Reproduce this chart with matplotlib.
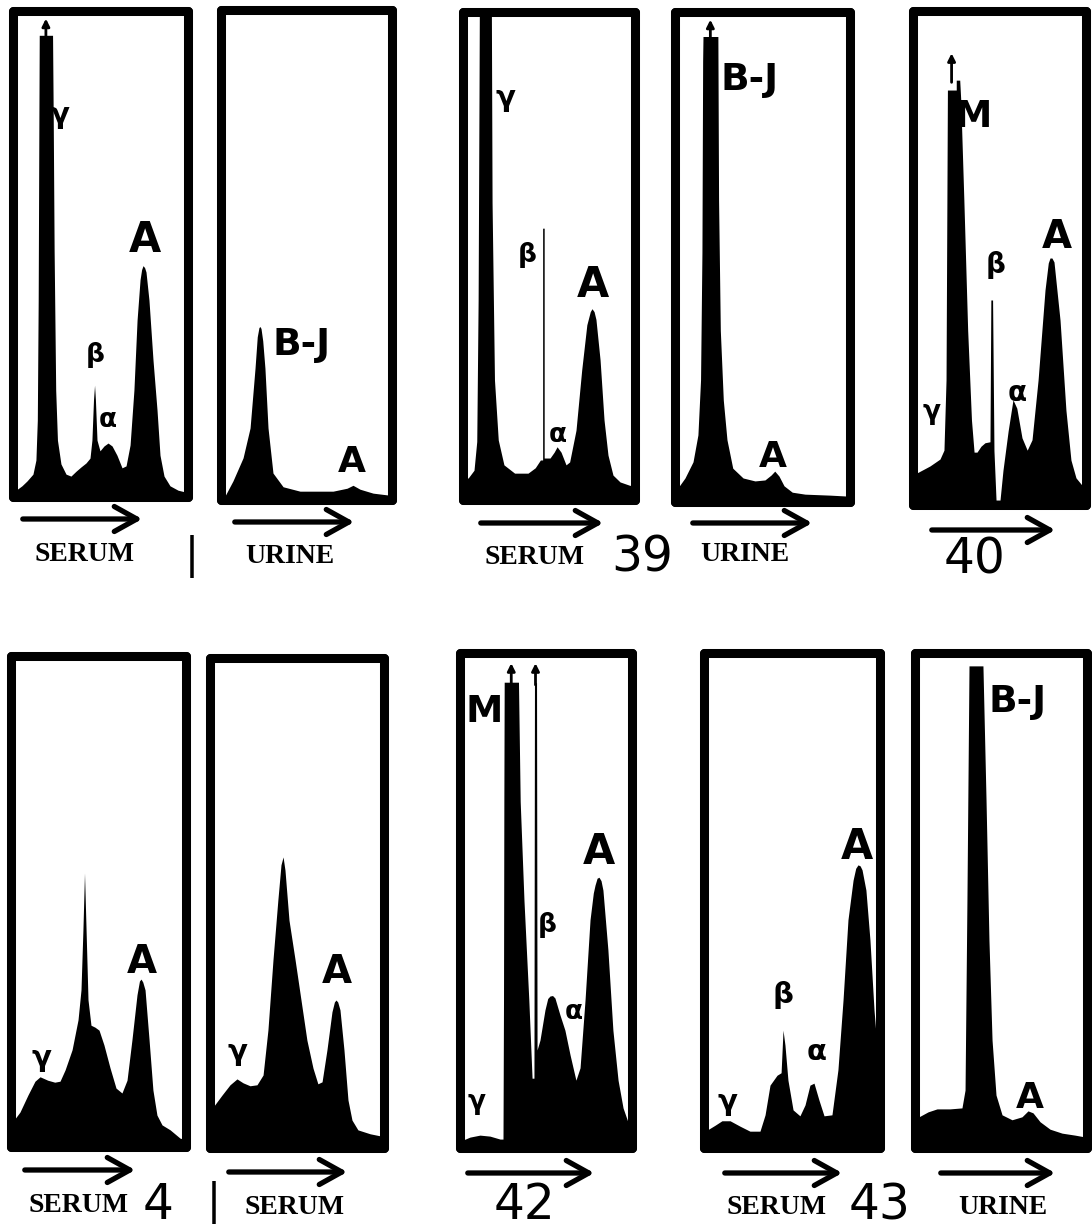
import matplotlib
matplotlib.use("Agg")
import matplotlib.pyplot as plt

W, H = 1092, 1229

# ---- densitometer traces, x = % of strip width, y = % of strip height ----
serum1_x = [0, 1.7, 5.1, 8, 11.4, 13.1, 13.9, 14.4, 14.8, 15.0, 22.6, 23.0, 23.5, 24.4, 25.4, 27.4, 30.3, 33.1, 36,
            38.9, 41.7, 44, 45.1, 46, 46.6, 47.1, 48, 49.7, 52, 54.3, 56.6, 59.4, 62.3, 64.6, 66.9, 69.1, 70.9, 72.6,
            73.5, 74.3, 75.2, 76, 77.7, 80, 82.3, 84, 86.3, 89.7, 94.3, 98.9, 100]
serum1_y = [1, 1.4, 2.3, 3.3, 4.7, 7.6, 15.8, 40.5, 77.6, 95, 95, 77.6, 50.8, 22, 11.7, 6.8, 4.7, 4.3, 5.3,
            6.2, 7, 8, 11.7, 20, 23, 20, 11.7, 9.5, 10.5, 11.1, 10.5, 8.6, 6, 6.4, 10.7, 22, 36.4, 44.7,
            46.8, 47.6, 47.2, 46.3, 40.5, 28.2, 17.9, 8.6, 4.3, 2.3, 1.4, 1, 1]

urine1_x = [0, 2.3, 7, 12.9, 17, 19.9, 21.2, 22.2, 22.8, 23.4, 24.4, 25.7, 27.5, 30.4, 36.3, 46.2, 65.5, 73.7, 77.2,
            81.3, 88.9, 98.2, 100]
urine1_y = [0.5, 0.8, 3.9, 8.6, 14.7, 26.9, 33.3, 35.2, 35.4, 35, 32.5, 26.9, 14.7, 5.5, 2.7, 1.8, 1.8, 2.4, 3,
            2.2, 1.4, 1, 1]

serum39_x = [0, 3, 6.4, 8, 8.8, 9.3, 9.5, 16.5, 16.9, 18.3, 20.5, 23.8, 30, 37.8, 42, 45, 46.3, 46.3, 47.2, 47.2,
             50.6, 53, 54.7, 57, 59.9, 62, 65.7, 69, 72, 74, 75, 76.2, 77.3, 79.7, 82, 84.3, 87.2, 91.3, 97, 100]
serum39_y = [4.5, 4.5, 6.1, 12, 41, 82, 100, 100, 61, 24.6, 12.3, 7.2, 5.5, 5.5, 6.6, 8.2, 8.2, 55.7, 55.7, 8.6,
             8.6, 9.8, 10.9, 9.8, 7.2, 7.8, 14.3, 26.6, 35.9, 38.6, 39.2, 38.6, 37, 28.7, 16.4, 9.2, 5.1, 3.7, 3, 3]

urine39_x = [0, 1.7, 5.7, 10.3, 13.1, 14.6, 15.4, 15.8, 16.0, 24.5, 24.9, 25.9, 27.6, 29.7, 33, 38.9, 45.7, 51.4,
             54.9, 57, 59.4, 62.3, 67, 74.3, 88.6, 99, 100]
urine39_y = [2.5, 2.9, 4.9, 8.2, 13.7, 24.9, 51, 90, 95, 95, 61.6, 35, 20.8, 12.7, 6.9, 4.9, 4.3, 4.5,
             5.5, 6.3, 5.3, 3.3, 2, 1.6, 1.4, 1.2, 1.2]

case40_x = [0, 2.3, 9.8, 15.6, 17.9, 19.1, 19.6, 19.9, 25, 25, 27, 27.6, 29.4, 31.6, 33.8, 35.3, 37, 39.3, 41.6,
            44.5, 45, 46, 46.8, 48, 50.3, 52, 55, 57.8, 60, 63, 66, 68.8, 72.3, 76.3, 78.2, 79.2, 80.3, 81.5, 85,
            88.4, 91.3, 94.2, 97.7, 100]
case40_y = [6.5, 6.5, 7.9, 9.3, 11.1, 25.3, 61.7, 84, 84, 86, 86, 82, 61.7, 35.4, 17.2, 10.7, 10.7, 11.9, 12.6,
            12.8, 41.5, 41.5, 11, 1, 1, 7, 15, 21.3, 19.6, 13.6, 11.1, 13.2, 25.3, 43.5, 49, 50, 50, 49.2, 37.4,
            19.2, 9.1, 5.5, 4, 4]

serum41a_x = [0, 1.7, 5.1, 9.7, 13.7, 16.6, 21, 25, 28, 30.9, 34.9, 38.3, 40, 41.1, 42, 42.9, 44, 45.7, 48, 50.3,
              53.1, 56.6, 60, 63.4, 66.3, 69.1, 72, 73.4, 74.3, 75.3, 76.6, 78.9, 81.1, 83.4, 86.3, 90.9, 96.6, 100]
serum41a_y = [5, 5.5, 7.1, 10.6, 13.4, 14.3, 13.6, 13.2, 13.4, 15.7, 19.8, 25.9, 32, 44.2, 55.8, 44.2, 30, 24.8,
              24.4, 23.8, 20.8, 16.1, 12, 11, 13.6, 21.8, 31, 33.8, 34.2, 33.6, 32, 21.8, 11.6, 6.5, 4.5, 3.5, 1.8,
              1.5]

serum41b_x = [0, 2.3, 6.9, 11.5, 15.5, 19, 23, 27, 30.5, 33.3, 36.2, 39, 40.8, 42, 43.1, 45.4, 48.9, 52.3, 55.7,
              59.2, 62, 64.4, 67.2, 70.1, 71.5, 72.4, 73.4, 74.7, 77, 79.3, 81.6, 85, 92, 98.9, 100]
serum41b_y = [8, 8.6, 10.8, 12.9, 14.1, 13.3, 12.7, 12.9, 14.9, 24.1, 38.4, 50.6, 57.8, 59.4, 56.7, 46.5, 38.4,
              30.2, 22, 16.3, 13.1, 13.5, 20, 27.8, 29.8, 30.2, 29.8, 28.2, 20, 9.8, 5.7, 3.7, 2.9, 2.4, 2.4]

case42_x = [0, 1.7, 5.8, 11.6, 17.4, 23.3, 25, 25.3, 25.5, 25.7, 34, 35, 37.2, 40, 41.9, 43, 43.3, 44.5, 44.8,
            46.5, 49.4, 51, 52.3, 53.8, 55.2, 58.1, 61, 64, 67.4, 69.8, 72.7, 75.6, 77.5, 78.5, 79.7, 80.8, 82,
            83.1, 86, 88.9, 91.9, 94.8, 98.3, 100]
case42_y = [1.5, 1.6, 2.2, 2.6, 2.4, 1.8, 1.8, 30, 70, 94.1, 94.1, 70, 50, 30, 14.1, 14.1, 94, 94, 19.8,
            21.8, 27.9, 30.2, 30.7, 30.8, 30.3, 26.9, 23.8, 18.8, 13.7, 16.2, 29.9, 46.1, 51.5, 53.1, 54.5, 54.7,
            54, 52.1, 40, 23.8, 13.7, 8.1, 4.6, 4]

serum43_x = [0, 1.7, 6.3, 10.2, 14.8, 20.5, 26.1, 31.8, 34.7, 37.5, 41.5, 43.8, 44.9, 46, 47.7, 50.6, 54.5, 57.4,
             60.2, 62.5, 65.3, 68.2, 72.7, 76.1, 79, 81.8, 84.7, 86.2, 87.5, 88.7, 89.8, 92, 94.3, 96.6, 98.9, 100]
serum43_y = [3.5, 3.6, 4.6, 5.5, 5.5, 4.4, 3.4, 3.4, 6.7, 12.7, 14.7, 15.2, 23.8, 20.8, 13.7, 7.7, 6.5, 8.7,
             12.7, 13.1, 9.7, 6.5, 6.7, 15.8, 29.9, 46.1, 54.1, 56.5, 57.2, 57, 56.2, 52.1, 42, 27.9, 17.8, 15]

urine43_x = [0, 2.3, 7.6, 12.8, 20.3, 27.3, 29.1, 30.2, 31.4, 39.5, 41.3, 43, 44.8, 47.1, 50.6, 56.4, 62.2, 65.7,
             68.6, 72.7, 78.5, 85.5, 93, 99.4, 100]
urine43_y = [6, 6.3, 7.3, 7.9, 7.9, 8.1, 11.7, 50.1, 97.4, 97.4, 70.3, 42, 21.8, 10.7, 6.7, 5.7, 6.3, 7.5,
             7.1, 5.3, 3.8, 3, 2.6, 2.2, 2.2]

# ---- strip layout (pixels: left, top, right, bottom of the frame line) ----
panels = [
    (13, 11, 188, 497, serum1_x, serum1_y),
    (221, 10, 392, 500, urine1_x, urine1_y),
    (463, 12, 635, 500, serum39_x, serum39_y),
    (675, 12, 850, 502, urine39_x, urine39_y),
    (913, 11, 1086, 505, case40_x, case40_y),
    (11, 656, 186, 1147, serum41a_x, serum41a_y),
    (210, 658, 384, 1148, serum41b_x, serum41b_y),
    (460, 653, 632, 1148, case42_x, case42_y),
    (704, 653, 880, 1148, serum43_x, serum43_y),
    (915, 653, 1087, 1148, urine43_x, urine43_y),
]

# arrow heads sitting on peaks that ran off scale: (panel, x%, from y%, to y%)
peak_arrows = [(0, 18.8, 94, 99), (3, 20.2, 94, 99), (4, 22.3, 85, 92), (7, 29.8, 93, 98.5), (7, 43.9, 93, 98.5)]

# peak labels (pixel centre, text, size)
peak_labels = [
    (60, 115, "γ", 21), (95, 355, "β", 19), (108, 420, "α", 19), (145, 240, "A", 30),
    (302, 345, "B-J", 27), (352, 462, "A", 26),
    (506, 98, "γ", 21), (527, 255, "β", 19), (558, 435, "α", 19), (593, 285, "A", 30),
    (750, 80, "B-J", 27), (773, 457, "A", 26),
    (973, 117, "M", 27), (996, 265, "β", 20), (1017, 393, "α", 20), (1057, 237, "A", 28), (932, 412, "γ", 19),
    (42, 1058, "γ", 21), (142, 962, "A", 28),
    (238, 1052, "γ", 21), (337, 972, "A", 28),
    (484, 712, "M", 27), (477, 1102, "γ", 19), (547, 925, "β", 19), (574, 1012, "α", 19), (599, 852, "A", 30),
    (727, 1102, "γ", 21), (783, 995, "β", 21), (817, 1052, "α", 21), (857, 847, "A", 30),
    (1018, 702, "B-J", 27), (1030, 1098, "A", 26),
]

# direction-of-migration arrows under each strip (x start, x end, y)
run_arrows = [(20, 145, 519), (232, 357, 522), (478, 606, 523), (690, 815, 523), (929, 1058, 530),
              (22, 138, 1170), (226, 350, 1172), (465, 597, 1173), (722, 845, 1173), (938, 1058, 1173)]

strip_names = [(85, 555, "SERUM"), (290, 556, "URINE"), (535, 558, "SERUM"), (745, 555, "URINE"),
               (78, 1205, "SERUM"), (294, 1207, "SERUM"), (776, 1207, "SERUM"), (1003, 1207, "URINE")]

# case numbers (the "1" of 1 and 41 is printed as a plain stroke)
case_numbers = [(192, 556, "|", 30), (642, 558, "39", 35), (975, 560, "40", 35), (158, 1205, "4", 35),
                (214, 1202, "|", 30), (525, 1205, "42", 35), (880, 1205, "43", 35)]


def fx(x):
    return x / W


def fy(y):
    return 1 - y / H


fig = plt.figure(figsize=(W / 100, H / 100), dpi=100)
fig.patch.set_facecolor("white")

axes = []
for left, top, right, bottom, xs, ys in panels:
    ax = fig.add_axes([fx(left), fy(bottom), (right - left) / W, (bottom - top) / H])
    ax.fill_between(xs, ys, 0, color="black", lw=0)
    ax.set_xlim(0, 100)
    ax.set_ylim(0, 100)
    ax.set_xticks([])
    ax.set_yticks([])
    for s in ax.spines.values():
        s.set_linewidth(6.5)
        s.set_joinstyle("round")
        s.set_capstyle("round")
    axes.append(ax)

for i, x, y0, y1 in peak_arrows:
    axes[i].annotate("", xy=(x, y1), xytext=(x, y0), annotation_clip=False,
                     arrowprops=dict(arrowstyle="-|>", color="black", lw=2, mutation_scale=11))

for x, y, s, size in peak_labels:
    fig.text(fx(x), fy(y), s, ha="center", va="center", fontsize=size, fontweight="bold",
             family="DejaVu Sans")

for x0, x1, y in run_arrows:
    fig.add_artist(matplotlib.patches.FancyArrowPatch(
        (fx(x0), fy(y)), (fx(x1), fy(y)), transform=fig.transFigure,
        arrowstyle="->,head_length=0.9,head_width=0.5", lw=3.8, color="black", mutation_scale=18))

for x, y, s in strip_names:
    fig.text(fx(x), fy(y), s, ha="center", va="center", fontsize=20, fontweight="bold",
             family="Liberation Serif")

for x, y, s, size in case_numbers:
    fig.text(fx(x), fy(y), s, ha="center", va="center", fontsize=size, family="DejaVu Sans")

fig.savefig("out.png", dpi=100)
